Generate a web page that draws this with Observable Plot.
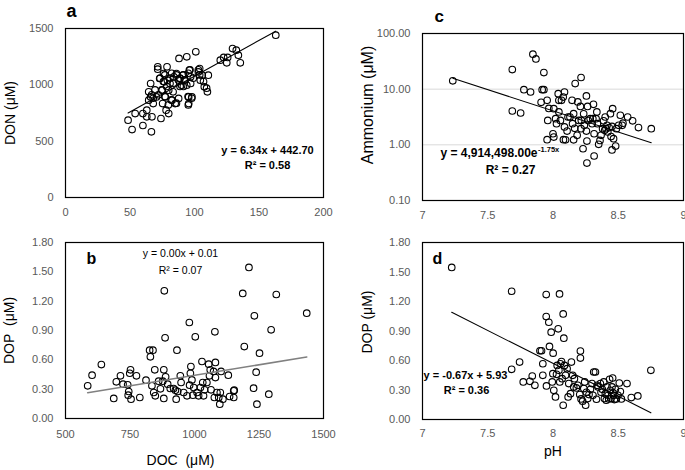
<!DOCTYPE html>
<html>
<head>
<meta charset="utf-8">
<script src="https://cdn.jsdelivr.net/npm/d3@7"></script>
<script src="https://cdn.jsdelivr.net/npm/@observablehq/plot@0.6"></script>
<style>
  html, body { margin: 0; padding: 0; background: #fff; }
  #wrap { position: relative; width: 685px; height: 470px; overflow: hidden; font-family: "Liberation Sans", Arial, sans-serif; }
  .p { position: absolute; }
  .p svg { overflow: visible; max-width: none !important; }
</style>
</head>
<body>
<div id="wrap">
  <div id="pa" class="p" style="left:0;top:0;width:340px;height:230px"></div>
  <div id="pb" class="p" style="left:0;top:235px;width:340px;height:235px"></div>
  <div id="pc" class="p" style="left:340px;top:0;width:345px;height:230px"></div>
  <div id="pd" class="p" style="left:340px;top:235px;width:345px;height:235px"></div>
</div>
<script>
// ---------- Data ----------
// Panel a: DOC (µM) vs DON (µM)
const panelA = [
  [48.5,686],[51.6,603],[54,745],[60,745],[60,639],[63,775],[64.5,938],[66,1012],[67,716],[66.6,583],
  [63,716],[64.5,864],[66,893],[68,834],[70.5,893],[71.5,1160],[71.5,1139],[73,1056],[74,701],[75,953],
  [75.3,834],[76,1100],[76.6,1027],[77.4,893],[78,775],[78.7,1160],[79,1041],[80,745],[80,953],[81,1012],
  [82.6,864],[83.4,938],[84,1071],[85,834],[86,1100],[87.7,879],[88,1234],[88.5,1056],[90,997],[91,1086],
  [92,1041],[94,997],[94,1249],[95.5,834],[95.5,893],[96,1130],[97,1071],[97,1012],[98,893],[101,1293],
  [103,1115],[104,1145],[104.5,1041],[106,1086],[107.6,982],[110,938],[110.7,1086],[120,1219],[122.6,1243],[125,1195],
  [125.7,1243],[129.5,1322],[132.4,1308],[134,1263],[135.5,1195],[163,1441],
  [73.3,1059],[75.9,1029],[77,1088],[81,1059],[82.3,1103],[83.6,1014],[86,1088],[87.5,1044],[88.8,1059],[91.4,1088],
  [92.7,1044],[95.2,1103],[96.5,1133],[99,1059],[103,1133],[104,1088],[107,1029],[109.4,970],[69.4,955],[72,911],
  [68,881],[77,896],[82,866],[86,837],[95,896],[97.8,881],[95.2,822],[79.7,822],[88.8,985],[91.4,985],
  [78.4,985],[74.6,955],[66.8,911]
];
// Panel b: DOC (µM) vs DOP (µM)
const panelB = [
  [586,0.334],[603,0.443],[639,0.552],[687,0.205],[697,0.375],[713,0.436],[723,0.351],[741,0.344],[745,0.276],[743,0.239],
  [749,0.463],[752,0.498],[754,0.198],[775,0.436],[788,0.215],[812,0.392],[826,0.699],[829,0.631],[839,0.699],[835,0.334],
  [842,0.266],[846,0.498],[848,0.232],[861,0.382],[868,0.303],[877,0.382],[881,0.498],[881,0.205],[883,1.306],[886,0.825],
  [888,0.426],[896,0.351],[906,0.307],[919,0.307],[926,0.290],[932,0.699],[929,0.198],[935,0.276],[945,0.436],[948,0.368],
  [958,0.266],[971,0.232],[980,0.982],[981,0.341],[984,0.463],[986,0.531],[990,0.395],[994,0.239],[997,0.317],[1003,0.835],
  [1010,0.266],[1016,0.232],[1023,0.317],[1029,0.583],[1032,0.368],[1035,0.232],[1039,0.293],[1048,0.368],[1055,0.556],[1058,0.436],
  [1061,0.498],[1064,0.293],[1074,0.481],[1077,0.215],[1079,0.886],[1081,0.573],[1081,0.419],[1087,0.266],[1094,0.215],[1098,0.147],
  [1100,0.266],[1103,0.481],[1110,0.198],[1131,0.443],[1136,0.225],[1152,0.283],[1154,0.290],[1152,0.215],[1193,0.736],[1187,1.279],
  [1211,1.545],[1229,0.310],[1232,1.050],[1239,0.474],[1242,0.147],[1252,0.668],[1288,0.249],[1297,0.907],[1317,1.268],[1435,1.077]
];
// Panel c: pH vs Ammonium (µM)
const panelC = [
  [7.232,14.1],[7.688,22.5],[7.688,4.05],[7.752,3.73],[7.777,9.8],[7.828,8.9],[7.846,42.5],[7.869,35],[7.909,5.8],[7.917,9.8],
  [7.93,9.8],[7.93,19.9],[7.955,6.3],[7.96,2.75],[7.955,1.24],[7.968,4.5],[8.0,1.58],[8.006,1.38],[8.006,4.47],[8.02,2.95],
  [8.027,2.4],[8.04,8.3],[8.045,6.3],[8.045,3.9],[8.057,2.75],[8.065,6.3],[8.078,7.2],[8.08,1.24],[8.088,8.9],[8.088,2.1],
  [8.096,1.23],[8.108,1.77],[8.115,3.16],[8.13,3.16],[8.146,6.3],[8.15,2.4],[8.158,3.63],[8.158,1.23],[8.166,1.98],[8.17,12.6],
  [8.185,1.48],[8.19,5.9],[8.197,2.75],[8.21,4.9],[8.215,1.95],[8.215,16.2],[8.217,2.75],[8.23,0.85],[8.235,3.6],[8.24,2.24],
  [8.256,1.77],[8.256,7.55],[8.26,1.17],[8.26,0.47],[8.265,4.9],[8.27,2.75],[8.285,2.95],[8.3,2.4],[8.305,2.95],[8.31,5.35],
  [8.315,1.58],[8.315,0.63],[8.33,2.95],[8.336,3.9],[8.34,2.4],[8.35,1.02],[8.36,1.2],[8.368,1.48],[8.38,1.95],[8.388,2.7],
  [8.396,1.82],[8.4,3.16],[8.406,1.95],[8.414,2.24],[8.42,1.7],[8.43,2.04],[8.44,3.63],[8.445,1.41],[8.452,2.14],[8.452,0.81],
  [8.457,4.47],[8.464,1.29],[8.48,0.95],[8.486,1.95],[8.503,2.24],[8.516,3.4],[8.53,2.24],[8.536,2.45],[8.572,3.16],[8.61,2.7],
  [8.655,2.04],[8.753,1.95]
];
// Panel d: pH vs DOP (µM)
const panelD = [
  [7.224,1.547],[7.683,1.304],[7.683,0.51],[7.744,0.584],[7.772,0.382],[7.823,0.388],[7.841,0.442],[7.861,0.348],[7.9,0.699],[7.912,0.699],
  [7.922,0.567],[7.922,0.449],[7.948,1.27],[7.948,1.047],[7.95,0.341],[7.968,0.989],[7.973,0.743],[7.986,0.888],[7.994,0.382],[7.999,0.466],
  [8.001,0.675],[8.006,0.297],[8.019,0.23],[8.027,0.459],[8.032,0.55],[8.04,0.922],[8.045,0.5],[8.05,1.277],[8.052,0.382],[8.057,0.567],
  [8.065,0.59],[8.07,0.415],[8.078,0.145],[8.078,1.074],[8.083,0.827],[8.088,0.55],[8.096,0.449],[8.108,0.517],[8.116,0.23],[8.121,0.365],
  [8.134,0.263],[8.141,0.584],[8.151,0.449],[8.159,0.331],[8.164,0.415],[8.179,0.321],[8.19,0.348],[8.205,0.253],[8.21,0.696],[8.21,0.625],
  [8.215,0.209],[8.227,0.186],[8.236,0.314],[8.243,0.382],[8.25,0.145],[8.256,0.277],[8.266,0.213],[8.276,0.253],[8.287,0.307],[8.299,0.365],
  [8.306,0.246],[8.312,0.483],[8.325,0.483],[8.333,0.206],[8.338,0.348],[8.346,0.331],[8.363,0.365],[8.368,0.277],[8.378,0.307],[8.389,0.382],
  [8.394,0.213],[8.401,0.263],[8.408,0.196],[8.414,0.331],[8.422,0.246],[8.427,0.209],[8.434,0.409],[8.439,0.297],[8.445,0.213],[8.452,0.331],
  [8.457,0.422],[8.46,0.27],[8.465,0.246],[8.47,0.203],[8.478,0.307],[8.485,0.209],[8.498,0.246],[8.508,0.371],[8.516,0.284],[8.524,0.209],
  [8.567,0.365],[8.6,0.223],[8.65,0.24],[8.75,0.5]
];

const fitA = [6.34, 442.70];          // linear: slope, intercept
const fitB = [0.00043, 0.012];        // linear (printed as 0.00x + 0.01)
const fitC = [4914498.00, -1.75];     // exponential: a * e^(b x)
const fitD = [-0.67, 5.93];           // linear

// Tick values
const ticksAx = [0, 50, 100, 150, 200];
const ticksAy = [0, 500, 1000, 1500];
const ticksBx = [500, 750, 1000, 1250, 1500];
const ticksDOPy = [0, 0.3, 0.6, 0.9, 1.2, 1.5, 1.8];
const ticksPHx = [7, 7.5, 8, 8.5, 9];
const ticksCy = [0.1, 1, 10, 100];
const gridCy = [1, 10];

// Texts
const labels = {
  a: "a", b: "b", c: "c", d: "d",
  donY: "DON (\u03BCM)",
  dopYb: "DOP\u00A0 (\u03BCM)",
  docX: "DOC\u00A0 (\u03BCM)",
  ammY: "Ammonium (\u03BCM)",
  dopYd: "DOP (\u03BCM)",
  phX: "pH"
};
const eqA = ["y = 6.34x + 442.70", "R\u00B2 = 0.58"];
const eqB = ["y = 0.00x + 0.01", "R\u00B2 = 0.07"];
const eqC = ["y = 4,914,498.00e", "-1.75x", "R\u00B2 = 0.27"];
const eqD = ["y = -0.67x + 5.93", "R\u00B2 = 0.36"];

// ---------- Helpers ----------
const FONT = '"Liberation Sans", Arial, sans-serif';
const TICK = "#595959";
const plain = d => String(d);
const fix2 = d3.format(".2f");
const px = d => d[0], py = d => d[1];
function linFit(data, f) {
  return d3.extent(data, px).map(x => [x, f[0] * x + f[1]]);
}
function expFit(data, f) {
  return d3.extent(data, px).map(x => [x, f[0] * Math.exp(f[1] * x)]);
}
const dotOpts = {x: px, y: py, r: 3.3, stroke: "black", strokeWidth: 1.1, fill: "none"};
function txt(s, o) {
  return Plot.text([s], Object.assign({text: d => d, fill: "black", fontFamily: FONT}, o));
}
function baseStyle() {
  return {fontFamily: FONT, fontSize: "11px", color: TICK, background: "white", overflow: "visible"};
}

// ---------- Panel a ----------
const plotA = Plot.plot({
  width: 340, height: 230,
  marginLeft: 65, marginRight: 17, marginTop: 28, marginBottom: 33,
  style: baseStyle(),
  x: {domain: [0, 200], ticks: ticksAx, tickFormat: plain, tickSize: 0, tickPadding: 11, label: null},
  y: {domain: [0, 1500], ticks: ticksAy, tickFormat: plain, tickSize: 0, tickPadding: 12, label: null},
  marks: [
    Plot.frame({stroke: "black", strokeWidth: 1.2}),
    Plot.dot(panelA, dotOpts),
    Plot.line(linFit(panelA, fitA), {x: px, y: py, stroke: "black", strokeWidth: 1.1}),
    txt(labels.a, {frameAnchor: "top-left", textAnchor: "start", lineAnchor: "middle", dx: 1, dy: -17, fontSize: 18, fontWeight: "bold"}),
    txt(labels.donY, {frameAnchor: "left", rotate: -90, textAnchor: "middle", lineAnchor: "middle", dx: -55, fontSize: 14}),
    txt(eqA[0], {frameAnchor: "top-left", textAnchor: "middle", lineAnchor: "middle", dx: 202, dy: 122, fontSize: 11, fontWeight: "bold"}),
    txt(eqA[1], {frameAnchor: "top-left", textAnchor: "middle", lineAnchor: "middle", dx: 202, dy: 137, fontSize: 11, fontWeight: "bold"})
  ]
});
document.getElementById("pa").append(plotA);

// ---------- Panel b ----------
const plotB = Plot.plot({
  width: 340, height: 235,
  marginLeft: 65, marginRight: 17, marginTop: 7, marginBottom: 52,
  style: baseStyle(),
  x: {domain: [500, 1500], ticks: ticksBx, tickFormat: plain, tickSize: 0, tickPadding: 12, label: null},
  y: {domain: [0, 1.8], ticks: ticksDOPy, tickFormat: fix2, tickSize: 0, tickPadding: 12, label: null},
  marks: [
    Plot.frame({stroke: "black", strokeWidth: 1.2}),
    Plot.dot(panelB, dotOpts),
    Plot.line(linFit(panelB, fitB), {x: px, y: py, stroke: "#808080", strokeWidth: 1.6}),
    txt(labels.b, {frameAnchor: "top-left", textAnchor: "start", lineAnchor: "middle", dx: 21, dy: 16, fontSize: 16, fontWeight: "bold"}),
    txt(labels.dopYb, {frameAnchor: "left", rotate: -90, textAnchor: "middle", lineAnchor: "middle", dx: -56, fontSize: 14}),
    txt(labels.docX, {frameAnchor: "bottom", textAnchor: "middle", lineAnchor: "middle", dx: -14, dy: 42, fontSize: 14}),
    txt(eqB[0], {frameAnchor: "top-left", textAnchor: "middle", lineAnchor: "middle", dx: 115, dy: 11, fontSize: 10.5}),
    txt(eqB[1], {frameAnchor: "top-left", textAnchor: "middle", lineAnchor: "middle", dx: 115, dy: 28, fontSize: 10.5})
  ]
});
document.getElementById("pb").append(plotB);

// ---------- Panel c ----------
const plotC = Plot.plot({
  width: 345, height: 230,
  marginLeft: 82, marginRight: 2, marginTop: 33, marginBottom: 30,
  style: baseStyle(),
  x: {domain: [7, 9], ticks: ticksPHx, tickFormat: plain, tickSize: 0, tickPadding: 11, label: null},
  y: {type: "log", domain: [0.1, 100], ticks: ticksCy, tickFormat: fix2, tickSize: 0, tickPadding: 12, label: null},
  marks: [
    Plot.ruleY(gridCy, {stroke: "#d9d9d9", strokeWidth: 1}),
    Plot.frame({stroke: "black", strokeWidth: 1.2}),
    Plot.dot(panelC, dotOpts),
    Plot.line(expFit(panelC, fitC), {x: px, y: py, stroke: "black", strokeWidth: 1.1}),
    txt(labels.c, {frameAnchor: "top-left", textAnchor: "start", lineAnchor: "middle", dx: 12, dy: -17, fontSize: 17, fontWeight: "bold"}),
    txt(labels.ammY, {frameAnchor: "left", rotate: -90, textAnchor: "middle", lineAnchor: "middle", dx: -55, dy: -12, fontSize: 16}),
    txt(eqC[0], {frameAnchor: "top-left", textAnchor: "end", lineAnchor: "middle", dx: 115, dy: 120, fontSize: 12, fontWeight: "bold"}),
    txt(eqC[1], {frameAnchor: "top-left", textAnchor: "start", lineAnchor: "middle", dx: 115.5, dy: 116, fontSize: 7.5, fontWeight: "bold"}),
    txt(eqC[2], {frameAnchor: "top-left", textAnchor: "middle", lineAnchor: "middle", dx: 88, dy: 137, fontSize: 12, fontWeight: "bold"})
  ]
});
document.getElementById("pc").append(plotC);

// ---------- Panel d ----------
const plotD = Plot.plot({
  width: 345, height: 235,
  marginLeft: 82, marginRight: 2, marginTop: 7, marginBottom: 51,
  style: baseStyle(),
  x: {domain: [7, 9], ticks: ticksPHx, tickFormat: plain, tickSize: 0, tickPadding: 10, label: null},
  y: {domain: [0, 1.8], ticks: ticksDOPy, tickFormat: fix2, tickSize: 0, tickPadding: 12, label: null},
  marks: [
    Plot.frame({stroke: "black", strokeWidth: 1.2}),
    Plot.dot(panelD, dotOpts),
    Plot.line(linFit(panelD, fitD), {x: px, y: py, stroke: "black", strokeWidth: 1.1}),
    txt(labels.d, {frameAnchor: "top-left", textAnchor: "start", lineAnchor: "middle", dx: 10, dy: 16, fontSize: 16, fontWeight: "bold"}),
    txt(labels.dopYd, {frameAnchor: "left", rotate: -90, textAnchor: "middle", lineAnchor: "middle", dx: -55, dy: -9, fontSize: 14}),
    txt(labels.phX, {frameAnchor: "bottom", textAnchor: "middle", lineAnchor: "middle", dy: 32, fontSize: 14}),
    txt(eqD[0], {frameAnchor: "top-left", textAnchor: "middle", lineAnchor: "middle", dx: 43, dy: 133, fontSize: 11, fontWeight: "bold"}),
    txt(eqD[1], {frameAnchor: "top-left", textAnchor: "middle", lineAnchor: "middle", dx: 44, dy: 148, fontSize: 11, fontWeight: "bold"})
  ]
});
document.getElementById("pd").append(plotD);
</script>
</body>
</html>
